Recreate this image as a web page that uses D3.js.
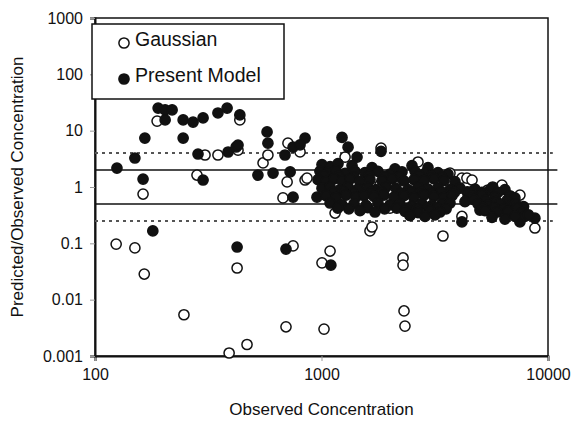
<!DOCTYPE html>
<html>
<head>
<meta charset="utf-8">
<script src="https://cdn.jsdelivr.net/npm/d3@7"></script>
<style>
  body { margin: 0; background: #fff; }
  text { font-family: "Liberation Sans", Arial, sans-serif; fill: #111; }
</style>
</head>
<body>
<svg id="chart"></svg>
<script>
// axis ticks
const xTicks = [100, 1000, 10000];
const yTicks = [0.001, 0.01, 0.1, 1, 10, 100, 1000];

// reference lines (factor of 2 and 4)
const solidLines = [2, 0.5];
const dashedLines = [4, 0.25];
const lineXEnd = 11000;

// Gaussian model, [observed, predicted/observed]
const gaussianPoints = [
  [124, 0.097], [150, 0.083], [165, 0.0285], [163, 0.75], [188, 14.8],
  [247, 0.0054], [282, 1.63], [306, 3.7], [349, 3.7], [391, 0.00113],
  [424, 0.0365], [428, 4.5], [436, 15.5], [469, 0.0016], [552, 2.67],
  [580, 3.7], [676, 0.64], [697, 0.0033], [705, 1.23], [711, 6.0],
  [749, 0.09], [804, 4.2], [846, 1.33], [863, 1.44], [1005, 0.045],
  [1026, 0.003], [1091, 0.073], [1148, 0.59], [1148, 0.345], [1170, 0.54],
  [1271, 3.4], [1336, 0.885], [1637, 0.166], [1671, 0.195], [1811, 1.08],
  [1832, 4.9], [2006, 0.42], [2291, 0.055], [2291, 0.041], [2314, 0.0063],
  [2336, 0.0034], [2667, 2.78], [3438, 0.135], [3692, 1.77], [4169, 1.44],
  [4169, 0.3], [4385, 1.44], [4619, 1.33], [5269, 0.815], [5430, 0.885],
  [6263, 1.08], [6790, 0.34], [7517, 0.72], [8754, 0.187]
];

// Present model, [observed, predicted/observed]
const modelPoints = [
  [125, 2.17], [150, 3.27], [163, 1.38], [166, 7.4], [180, 0.166],
  [190, 25.2], [204, 23.3], [219, 23.3], [204, 15.5], [245, 15.5],
  [271, 14.2], [300, 16.8], [245, 7.4], [349, 20.6], [383, 25.2],
  [436, 19.0], [285, 3.85], [387, 4.18], [420, 5.13], [428, 5.56],
  [300, 1.33], [424, 0.086], [697, 0.079], [1100, 0.041], [575, 9.5],
  [580, 6.0], [524, 1.63], [611, 1.77], [727, 1.85], [690, 3.7],
  [749, 5.1], [846, 7.4], [804, 5.6], [1232, 7.6], [1310, 5.1],
  [1435, 3.4], [1832, 4.3], [749, 0.66], [955, 0.66], [4169, 0.24],
  [5008, 0.39], [4434, 0.66], [8754, 0.28], [7517, 0.24],
  // dense cluster 1000-8000
  [1005, 2.5], [1091, 2.3], [1183, 2.6], [1364, 2.4], [1671, 2.2],
  [2111, 2.1], [2509, 2.4], [2953, 2.2],
  [984, 1.9], [1068, 1.8], [1159, 1.95], [1271, 1.75], [1406, 1.9],
  [1556, 1.8], [1776, 1.9], [2006, 1.7], [2267, 1.85], [2587, 1.9],
  [2864, 1.75], [3268, 1.8], [3618, 1.7],
  [1026, 1.6], [1190, 1.55], [1390, 1.5], [1620, 1.6], [1900, 1.55],
  [2200, 1.5], [2700, 1.6], [3050, 1.55], [3400, 1.5],
  [965, 1.35], [1047, 1.25], [1136, 1.4], [1232, 1.3], [1336, 1.38],
  [1479, 1.25], [1637, 1.35], [1849, 1.3], [2048, 1.4], [2313, 1.28],
  [2561, 1.35], [2835, 1.3], [3138, 1.4], [3474, 1.3], [3884, 1.25],
  [1005, 0.95], [1091, 1.0], [1207, 0.9], [1310, 1.0], [1449, 0.92],
  [1605, 0.98], [1740, 0.9], [1927, 1.0], [2133, 0.95], [2409, 0.9],
  [2667, 1.0], [2953, 0.92], [3268, 0.97], [3692, 0.9], [4086, 0.95],
  [4760, 0.92], [5543, 0.88], [6454, 0.9], [5700, 1.0],
  [1120, 0.8], [1250, 0.82], [1380, 0.78], [1660, 0.8], [1840, 0.82],
  [2240, 0.78], [2480, 0.82], [2760, 0.8], [3060, 0.78], [3380, 0.82],
  [3860, 0.8], [4400, 0.82], [5100, 0.8], [6000, 0.8], [4500, 0.8],
  [1047, 0.7], [1159, 0.65], [1283, 0.72], [1420, 0.66], [1540, 0.7],
  [1705, 0.68], [1888, 0.72], [2090, 0.66], [2313, 0.7], [2561, 0.65],
  [2835, 0.72], [3138, 0.68], [3474, 0.65], [3769, 0.7], [4619, 0.68],
  [5111, 0.72], [5831, 0.66], [6790, 0.7], [7144, 0.64],
  [4300, 0.55], [4700, 0.6], [5300, 0.58], [5900, 0.55], [6600, 0.58],
  [1091, 0.52], [1232, 0.48], [1392, 0.5], [1572, 0.47], [1776, 0.52],
  [2006, 0.48], [2221, 0.5], [2509, 0.46], [2778, 0.5], [3075, 0.47],
  [3404, 0.5], [3692, 0.52], [4910, 0.5], [5430, 0.47], [6135, 0.5],
  [6937, 0.48], [7200, 0.5], [7800, 0.45],
  [1180, 0.42], [1320, 0.41], [1600, 0.43], [1900, 0.41], [2150, 0.42],
  [2380, 0.42], [2650, 0.41], [2950, 0.43], [3250, 0.42], [3550, 0.41],
  [5150, 0.43], [5800, 0.42], [6400, 0.41], [7300, 0.42],
  [1479, 0.38], [1722, 0.36], [2336, 0.37], [2667, 0.35], [3013, 0.38],
  [3335, 0.36], [5269, 0.38], [5955, 0.36], [6660, 0.37], [7678, 0.35],
  [2458, 0.31], [2864, 0.3], [3170, 0.32],
  [5659, 0.29], [6454, 0.27], [7144, 0.3], [7900, 0.3], [8200, 0.32]
];

const legendItems = ["Gaussian", "Present Model"];

const W = 573, H = 422;
const margin = { top: 18, right: 25, bottom: 66, left: 95 };
const width = W - margin.left - margin.right;
const height = H - margin.top - margin.bottom;

const svg = d3.select("#chart").attr("width", W).attr("height", H);
const g = svg.append("g").attr("transform", `translate(${margin.left},${margin.top})`);

const x = d3.scaleLog().domain([100, 10000]).range([0, width]);
const y = d3.scaleLog().domain([0.001, 1000]).range([height, 0]);

// frame
g.append("rect")
  .attr("width", width).attr("height", height)
  .attr("fill", "none").attr("stroke", "#111").attr("stroke-width", 1.5);

// axes
const xAxis = g.append("g")
  .attr("transform", `translate(0,${height})`)
  .call(d3.axisBottom(x).tickValues(xTicks).tickFormat(d => String(d)).tickSizeOuter(0).tickSize(5).tickPadding(8));
const yAxis = g.append("g")
  .call(d3.axisLeft(y).tickValues(yTicks).tickFormat(d => String(d)).tickSizeOuter(0).tickSize(5).tickPadding(7));

[xAxis, yAxis].forEach(a => {
  a.select(".domain").attr("stroke", "#111").attr("stroke-width", 2);
  a.selectAll(".tick line").attr("stroke", "#999");
  a.selectAll(".tick text").attr("font-size", 16).attr("fill", "#222")
    .style("font-family", '"Liberation Sans", Arial, sans-serif');
});

// reference lines
g.selectAll(".dashed").data(dashedLines).join("line")
  .attr("x1", x(100)).attr("x2", x(10500))
  .attr("y1", d => y(d)).attr("y2", d => y(d))
  .attr("stroke", "#555").attr("stroke-width", 2).attr("stroke-dasharray", "3,4");
g.selectAll(".solid").data(solidLines).join("line")
  .attr("x1", x(100)).attr("x2", x(lineXEnd))
  .attr("y1", d => y(d)).attr("y2", d => y(d))
  .attr("stroke", "#111").attr("stroke-width", 1.5);

// points
const r = 5.1;
g.append("g").selectAll("circle").data(gaussianPoints).join("circle")
  .attr("cx", d => x(d[0])).attr("cy", d => y(d[1])).attr("r", r)
  .attr("fill", "#fff").attr("stroke", "#111").attr("stroke-width", 1.5);
g.append("g").selectAll("circle").data(modelPoints).join("circle")
  .attr("cx", d => x(d[0])).attr("cy", d => y(d[1])).attr("r", r)
  .attr("fill", "#111").attr("stroke", "#111").attr("stroke-width", 1.5);

// legend
const legend = svg.append("g").attr("transform", "translate(92,24)");
legend.append("rect").attr("width", 192).attr("height", 75)
  .attr("fill", "#fff").attr("stroke", "#111").attr("stroke-width", 1.5);
legend.selectAll("circle").data(legendItems).join("circle")
  .attr("cx", 32).attr("cy", (d, i) => 19 + i * 36).attr("r", r)
  .attr("fill", (d, i) => i ? "#111" : "#fff")
  .attr("stroke", "#111").attr("stroke-width", 1.5);
legend.selectAll("text").data(legendItems).join("text")
  .attr("x", 43).attr("y", (d, i) => 22 + i * 36)
  .attr("font-size", 19.5).text(d => d);

// axis titles
svg.append("text")
  .attr("x", margin.left + width / 2).attr("y", 415)
  .attr("text-anchor", "middle").attr("font-size", 17)
  .text("Observed Concentration");
svg.append("text")
  .attr("transform", `translate(23,${margin.top + height / 2}) rotate(-90)`)
  .attr("text-anchor", "middle").attr("font-size", 17)
  .text("Predicted/Observed Concentration");
</script>
</body>
</html>
